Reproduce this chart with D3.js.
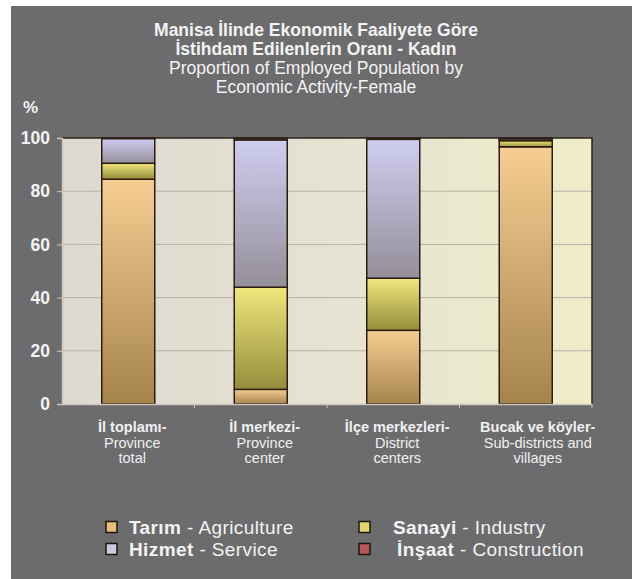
<!DOCTYPE html>
<html>
<head>
<meta charset="utf-8">
<script src="https://cdn.jsdelivr.net/npm/d3@7"></script>
<style>
  html, body { margin: 0; padding: 0; background: #fff; }
  svg { display: block; font-family: 'Liberation Sans', Arial, sans-serif; }
</style>
</head>
<body>
<div id="chart"></div>
<script>
// categories (Turkish bold line + English lines)
const categoriesTr = ['İl toplamı-', 'İl merkezi-', 'İlçe merkezleri-', 'Bucak ve köyler-'];
const categoriesEn = [['Province', 'total'], ['Province', 'center'], ['District', 'centers'], ['Sub-districts and', 'villages']];

// series values (%)
const agriculture = [84.5, 5.5, 27.7, 96.7];
const industry = [6.0, 38.4, 19.6, 2.3];
const service = [9.3, 55.4, 52.2, 0.7];
const construction = [0.2, 0.7, 0.5, 0.3];

const yTicks = [0, 20, 40, 60, 80, 100];

const seriesKeys = ['agriculture', 'industry', 'service', 'construction'];
const legendTr = { agriculture: 'Tarım', industry: 'Sanayi', service: 'Hizmet', construction: 'İnşaat' };
const legendEn = { agriculture: 'Agriculture', industry: 'Industry', service: 'Service', construction: 'Construction' };

const size = { width: 632, height: 579 };
const plot = { left: 62, right: 592, top: 138, bottom: 404 };

// colour ramps (top, bottom) for each series
const ramps = {
  agriculture: ['#f6cd93', '#a5844c'],
  industry: ['#f0e77c', '#958d3c'],
  service: ['#cfcdf0', '#958f99'],
  construction: ['#c46a6a', '#8a3a3a'],
};
const swatch = {
  agriculture: '#e6bd7e',
  industry: '#e0d56a',
  service: '#cdc8dc',
  construction: '#b4585e',
};

const table = categoriesTr.map((c, i) => ({
  cat: c,
  agriculture: agriculture[i],
  industry: industry[i],
  service: service[i],
  construction: construction[i],
}));

const svg = d3.select('#chart')
  .append('svg')
  .attr('width', size.width)
  .attr('height', size.height);

const defs = svg.append('defs');
seriesKeys.forEach((k) => {
  const g = defs.append('linearGradient')
    .attr('id', `grad-${k}`)
    .attr('x1', 0).attr('y1', 0).attr('x2', 0).attr('y2', 1);
  g.append('stop').attr('offset', '0%').attr('stop-color', ramps[k][0]);
  g.append('stop').attr('offset', '100%').attr('stop-color', ramps[k][1]);
});
const bg = defs.append('linearGradient')
  .attr('id', 'plot-bg')
  .attr('x1', 0).attr('y1', 0).attr('x2', 1).attr('y2', 0);
bg.append('stop').attr('offset', '0%').attr('stop-color', '#ddd9d1');
bg.append('stop').attr('offset', '55%').attr('stop-color', '#e6e3d2');
bg.append('stop').attr('offset', '100%').attr('stop-color', '#efedc8');

// page background (grey card with a thin white margin)
svg.append('rect')
  .attr('x', 11).attr('y', 6)
  .attr('width', size.width - 11).attr('height', size.height - 6)
  .attr('fill', '#6c6c6e');

// title
const titleLines = [
  { t: 'Manisa İlinde Ekonomik Faaliyete Göre', bold: true, y: 36 },
  { t: 'İstihdam Edilenlerin Oranı - Kadın', bold: true, y: 55 },
  { t: 'Proportion of Employed Population by', bold: false, y: 74 },
  { t: 'Economic Activity-Female', bold: false, y: 93 },
];
svg.append('g')
  .selectAll('text')
  .data(titleLines)
  .enter()
  .append('text')
  .attr('x', 316)
  .attr('y', (d) => d.y)
  .attr('text-anchor', 'middle')
  .attr('fill', '#f3f3f3')
  .style('font-size', '17.5px')
  .style('font-weight', (d) => (d.bold ? 'bold' : 'normal'))
  .text((d) => d.t);

svg.append('text')
  .attr('x', 23).attr('y', 113)
  .attr('fill', '#f3f3f3')
  .style('font-size', '17px')
  .style('font-weight', 'bold')
  .text('%');

// scales
const x = d3.scaleBand()
  .domain(categoriesTr)
  .range([plot.left, plot.right])
  .paddingInner(0.6)
  .paddingOuter(0.3);
const xCat = d3.scaleBand()
  .domain(categoriesTr)
  .range([plot.left, plot.right])
  .padding(0);
const y = d3.scaleLinear().domain([0, 100]).range([plot.bottom, plot.top]);

// plot background
svg.append('rect')
  .attr('x', plot.left).attr('y', plot.top)
  .attr('width', plot.right - plot.left)
  .attr('height', plot.bottom - plot.top)
  .attr('fill', 'url(#plot-bg)');

// gridlines
svg.append('g')
  .selectAll('line')
  .data(yTicks.filter((d) => d > 0 && d < 100))
  .enter()
  .append('line')
  .attr('x1', plot.left).attr('x2', plot.right)
  .attr('y1', (d) => y(d)).attr('y2', (d) => y(d))
  .attr('stroke', '#b9b1a8')
  .attr('stroke-width', 1);

// stacked bars
const stacked = d3.stack().keys(seriesKeys)(table);
svg.append('g')
  .selectAll('g')
  .data(stacked)
  .enter()
  .append('g')
  .attr('fill', (s) => `url(#grad-${s.key})`)
  .selectAll('rect')
  .data((s) => s)
  .enter()
  .append('rect')
  .attr('x', (d) => x(d.data.cat))
  .attr('y', (d) => y(d[1]))
  .attr('width', x.bandwidth())
  .attr('height', (d) => y(d[0]) - y(d[1]))
  .attr('stroke', '#2a1c10')
  .attr('stroke-width', 1.5);

// top and right frame (dark)
svg.append('path')
  .attr('d', `M${plot.left},${plot.top}H${plot.right}V${plot.bottom}`)
  .attr('fill', 'none')
  .attr('stroke', '#2e2218')
  .attr('stroke-width', 1.5);

// y axis
svg.append('g')
  .attr('transform', `translate(${plot.left},0)`)
  .call(d3.axisLeft(y).tickValues(yTicks).tickSize(5).tickPadding(7))
  .call((g) => g.select('.domain').attr('stroke', '#cfc7bd').attr('stroke-width', 1.5))
  .call((g) => g.selectAll('.tick line').attr('stroke', '#cfc7bd'))
  .call((g) => g.selectAll('.tick text')
    .attr('fill', '#f3f3f3')
    .style('font-family', "'Liberation Sans', Arial, sans-serif")
    .style('font-size', '17.5px')
    .style('font-weight', 'bold'));

// x axis
svg.append('g')
  .attr('transform', `translate(0,${plot.bottom})`)
  .call(d3.axisBottom(xCat).tickSize(0).tickFormat(''))
  .call((g) => g.select('.domain').attr('stroke', '#cfc7bd').attr('stroke-width', 1.5));
svg.append('g')
  .selectAll('line')
  .data(categoriesTr)
  .enter()
  .append('line')
  .attr('x1', (d) => xCat(d) + xCat.bandwidth())
  .attr('x2', (d) => xCat(d) + xCat.bandwidth())
  .attr('y1', plot.bottom)
  .attr('y2', plot.bottom + 4)
  .attr('stroke', '#cfc7bd');

const labelX = (d, i) => x(d) + x.bandwidth() / 2 + (i === 3 ? 12 : 4);
const xLabels = svg.append('g')
  .selectAll('text')
  .data(categoriesTr)
  .enter()
  .append('text')
  .attr('x', labelX)
  .attr('y', 432)
  .attr('text-anchor', 'middle')
  .attr('fill', '#f0f0f0')
  .style('font-size', '14.5px');
xLabels.append('tspan')
  .style('font-weight', 'bold')
  .text((d) => d);
xLabels.each(function (d, i) {
  const t = d3.select(this);
  categoriesEn[i].forEach((line, j) => {
    t.append('tspan')
      .attr('x', labelX(d, i))
      .attr('dy', 15.5)
      .style('font-weight', 'normal')
      .text(line);
  });
});

// legend
const legendPos = [
  { k: 'agriculture', x: 106, y: 527 },
  { k: 'industry', x: 359, y: 527 },
  { k: 'service', x: 106, y: 549 },
  { k: 'construction', x: 359, y: 549 },
];
const legend = svg.append('g')
  .selectAll('g')
  .data(legendPos)
  .enter()
  .append('g')
  .attr('transform', (d) => `translate(${d.x},${d.y})`);
legend.append('rect')
  .attr('x', 0).attr('y', -5.5)
  .attr('width', 11).attr('height', 11)
  .attr('fill', (d) => swatch[d.k])
  .attr('stroke', '#1e150c')
  .attr('stroke-width', 1.5);
const legendText = legend.append('text')
  .attr('x', (d) => (d.x > 200 ? (d.k === 'construction' ? 38 : 34) : 23))
  .attr('y', 6.5)
  .attr('fill', '#f3f3f3')
  .style('font-size', '19px')
  .style('letter-spacing', '0.4px');
legendText.append('tspan')
  .style('font-weight', 'bold')
  .text((d) => legendTr[d.k]);
legendText.append('tspan')
  .text((d) => ` - ${legendEn[d.k]}`);
</script>
</body>
</html>
